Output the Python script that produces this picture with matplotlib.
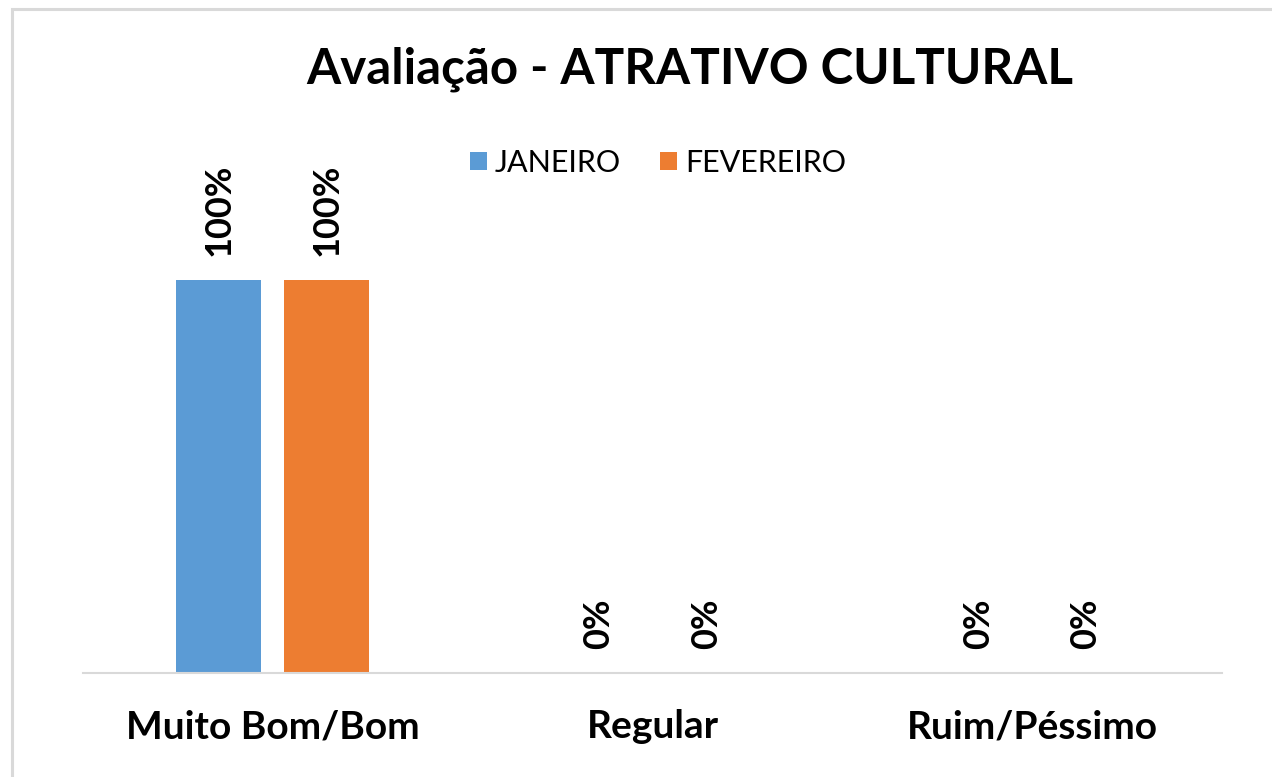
import matplotlib
matplotlib.use("Agg")
import matplotlib.pyplot as plt
from matplotlib.patches import Rectangle
import numpy as np

# dados do gráfico
categorias = ["Muito Bom/Bom", "Regular", "Ruim/Péssimo"]
janeiro = [1.00, 0.00, 0.00]
fevereiro = [1.00, 0.00, 0.00]
series = ["JANEIRO", "FEVEREIRO"]
cores = ["#5B9BD5", "#ED7D31"]

plt.rcParams["font.family"] = ["Lato", "DejaVu Sans"]

W, H = 1272, 777
fig = plt.figure(figsize=(W / 100, H / 100), dpi=100)

# moldura cinza clara (cortada à direita e embaixo)
fig.patches.append(Rectangle((12 / W, -0.05), 1.1, 1 - 9 / H + 0.05,
                             transform=fig.transFigure, fill=False,
                             edgecolor="#d9d9d9", linewidth=2.2))

ax = fig.add_axes([83 / W, 1 - 673 / H, (1222 - 83) / W, (673 - 201) / H])

x = np.arange(len(categorias))
largura = 0.224
desloc = 0.142
for i, (vals, nome, cor) in enumerate(zip([janeiro, fevereiro], series, cores)):
    pos = x + (desloc if i else -desloc)
    ax.bar(pos, vals, width=largura, color=cor, label=nome, zorder=2)
    for px, v in zip(pos, vals):
        ax.text(px, v + 0.06, f"{v:.0%}", rotation=90, ha="center", va="bottom",
                fontsize=26, fontweight="bold", color="#000000")

ax.set_xlim(-0.5, len(categorias) - 0.5)
ax.set_ylim(0, 1.2)
ax.set_yticks([])
ax.set_xticks(x)
ax.set_xticklabels(categorias, fontsize=28, fontweight="bold")
ax.tick_params(axis="x", length=0, pad=26)
for lado in ["top", "right", "left"]:
    ax.spines[lado].set_visible(False)
ax.spines["bottom"].set_color("#d9d9d9")
ax.spines["bottom"].set_linewidth(1.5)

fig.text(690 / W, 1 - 69 / H, "Avaliação - ATRATIVO CULTURAL", ha="center",
         va="center", fontsize=35.5, fontweight="bold")

ax.legend(loc="center", bbox_to_anchor=(658 / W, 1 - 163 / H),
          bbox_transform=fig.transFigure, ncol=2, frameon=False,
          fontsize=22, handlelength=0.55, handleheight=0.55, handletextpad=0.25,
          columnspacing=1.3)

fig.savefig("out.png", dpi=100)
